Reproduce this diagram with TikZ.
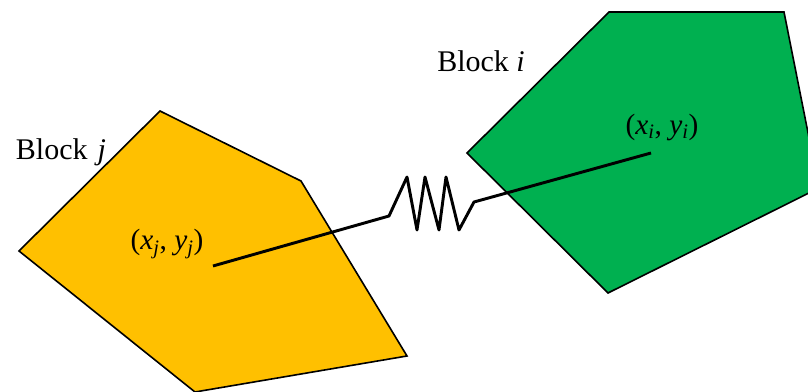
\documentclass[tikz,border=0pt]{standalone}
\usepackage{fontspec}
\setmainfont{Liberation Serif}
\usepackage{tikz}
\usetikzlibrary{positioning}

\definecolor{blockgreen}{RGB}{0,176,80}
\definecolor{blockyellow}{RGB}{255,192,0}

\begin{document}
\begin{tikzpicture}[
  x=0.75pt,y=-0.75pt,
  block/.style={draw=black,line width=1.2pt,line join=miter},
  spring/.style={draw=black,line width=2.2pt,line join=round},
  lbl/.style={inner sep=0pt,font=\fontsize{22.5}{26}\selectfont},
  coordlbl/.style={inner sep=0pt,font=\fontsize{22}{26}\selectfont}
]
  \useasboundingbox (0,0) rectangle (808,392);
  \clip (0,0) rectangle (808,392);

  \fill[white] (0,0) rectangle (808,392);
  % the two blocks
  \draw[block,fill=blockyellow] (160,111) -- (301,181) -- (407,356) -- (195,392) -- (19,251) -- cycle;
  \draw[block,fill=blockgreen] (609,12) -- (784,12) -- (819,188) -- (608,293) -- (467,153) -- cycle;

  \node[lbl] (blocki) at (481,61) {Block \textit{i}};
  \node[lbl] (blockj) at (61,152) {Block\hspace{2pt} \textit{j}};
  \node[coordlbl] (posi) at (662,127) {(\textit{x}\textsubscript{\textit{i}}, \textit{y}\textsubscript{\textit{i}})};
  \node[coordlbl] (posj) at (167,244) {(\textit{x}\textsubscript{\textit{j}}, \textit{y}\textsubscript{\textit{j}})};

  \coordinate (centerj) at (213,266);
  \coordinate (centeri) at (651,153);

  % spring between the centres
  \draw[spring] (centerj) -- (389,216) -- (407,177) -- (417,230) -- (425,177) -- (439,230) -- (446,177) -- (459,230) -- (474,202) -- (centeri);
\end{tikzpicture}
\end{document}
